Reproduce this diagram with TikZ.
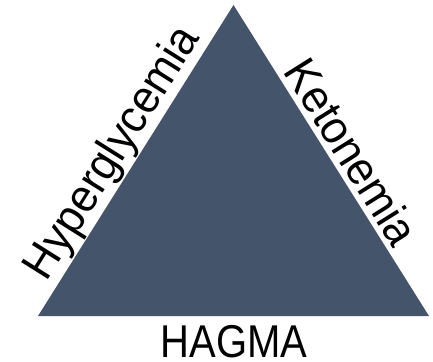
\documentclass[tikz,border=0pt]{standalone}
\usepackage{fontspec}
\setmainfont{Liberation Sans}[FakeStretch=0.95]
\newfontfamily\capsfont{Liberation Sans}[FakeStretch=0.87]
\definecolor{slate}{HTML}{44546A}
\begin{document}
\begin{tikzpicture}[x=1pt,y=-1pt,
  sidelabel/.style={inner sep=0pt, anchor=base, font=\fontsize{46}{50}\selectfont},
  baselabel/.style={inner sep=0pt, anchor=base, font=\capsfont\fontsize{46}{50}\selectfont}]
\useasboundingbox (0,0) rectangle (433,361);
\coordinate (A) at (38,316);
\coordinate (B) at (429,316);
\coordinate (C) at (233.5,5);
\fill[slate] (A) -- (B) -- (C) -- cycle;
\node[sidelabel, rotate=57.85] (hyper) at (123.8,160) {Hyperglycemia};
\node[sidelabel, rotate=-57.85] (keto) at (338.3,160.4) {Ketonemia};
\node[baselabel] (hagma) at (234.3,357) {HAGMA};
\end{tikzpicture}
\end{document}
